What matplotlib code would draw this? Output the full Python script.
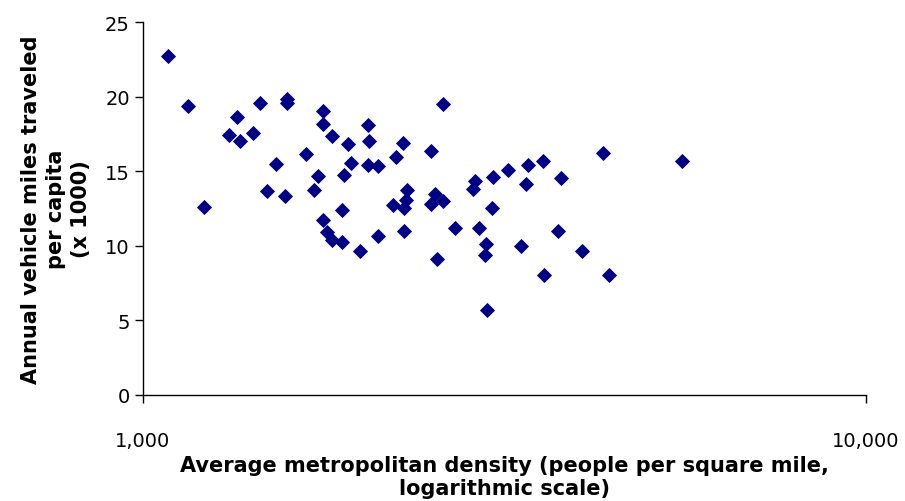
import numpy as np
import matplotlib.pyplot as plt

# density (people per sq mile) and annual VMT per capita (x 1000)
density = [1083, 1154, 1214, 1315, 1349, 1362, 1420, 1451, 1484, 1528,
           1572, 1582, 1582, 1680, 1724, 1746, 1774, 1774, 1774, 1797,
           1826, 1826, 1885, 1885, 1897, 1921, 1940, 1996, 2048, 2054,
           2048, 2114, 2114, 2217, 2239, 2289, 2296, 2296, 2311, 2318,
           2502, 2502, 2534, 2600, 2551, 2600, 2701, 2861, 2879, 2915,
           2981, 2972, 2991, 3039, 3049, 3198, 3333, 3386, 3407, 3575,
           3586, 3750, 3786, 4047, 4327, 4412, 5566]
vmt = [22.7, 19.35, 12.58, 17.4, 18.61, 17.0, 17.54, 19.55, 13.65, 15.46,
       13.31, 19.82, 19.55, 16.13, 13.71, 14.65, 19.01, 18.14, 11.71, 10.9,
       10.36, 17.34, 12.38, 10.23, 14.72, 16.8, 15.53, 9.62, 18.08, 17.0,
       15.39, 15.33, 10.63, 12.71, 15.93, 16.87, 12.51, 10.97, 13.05, 13.71,
       16.33, 12.78, 13.45, 12.98, 9.09, 19.48, 11.17, 13.78, 14.32, 11.17,
       10.09, 9.36, 5.67, 12.51, 14.59, 15.06, 9.96, 14.12, 15.39, 15.66,
       8.02, 10.97, 14.52, 9.62, 16.2, 8.02, 15.66]

fig = plt.figure(figsize=(9.05, 5.02), dpi=100)
ax = fig.add_axes([0.158, 0.212, 0.799, 0.742])

ax.plot(density, vmt, linestyle='none', marker='D', markersize=7.5,
        color='#000080', markeredgecolor='#000080', markeredgewidth=0.6)

ax.set_xscale('log')
ax.set_xlim(1000, 10000)
ax.set_ylim(0, 25)
ax.set_xticks([1000, 10000])
ax.set_xticklabels(['1,000', '10,000'])
ax.xaxis.set_minor_locator(plt.NullLocator())
ax.set_yticks([0, 5, 10, 15, 20, 25])

for s in ['top', 'right']:
    ax.spines[s].set_visible(False)
for s in ['left', 'bottom']:
    ax.spines[s].set_linewidth(1.0)
ax.tick_params(axis='both', labelsize=14, length=6, width=1.0, direction='out')
ax.tick_params(axis='x', pad=20)

ax.set_xlabel('Average metropolitan density (people per square mile,\nlogarithmic scale)',
              fontsize=15, fontweight='bold', labelpad=4, linespacing=1.2)
ax.set_ylabel('Annual vehicle miles traveled\nper capita\n(x 1000)',
              fontsize=15, fontweight='bold', labelpad=10, linespacing=1.3)

fig.savefig('out.png', dpi=100)
